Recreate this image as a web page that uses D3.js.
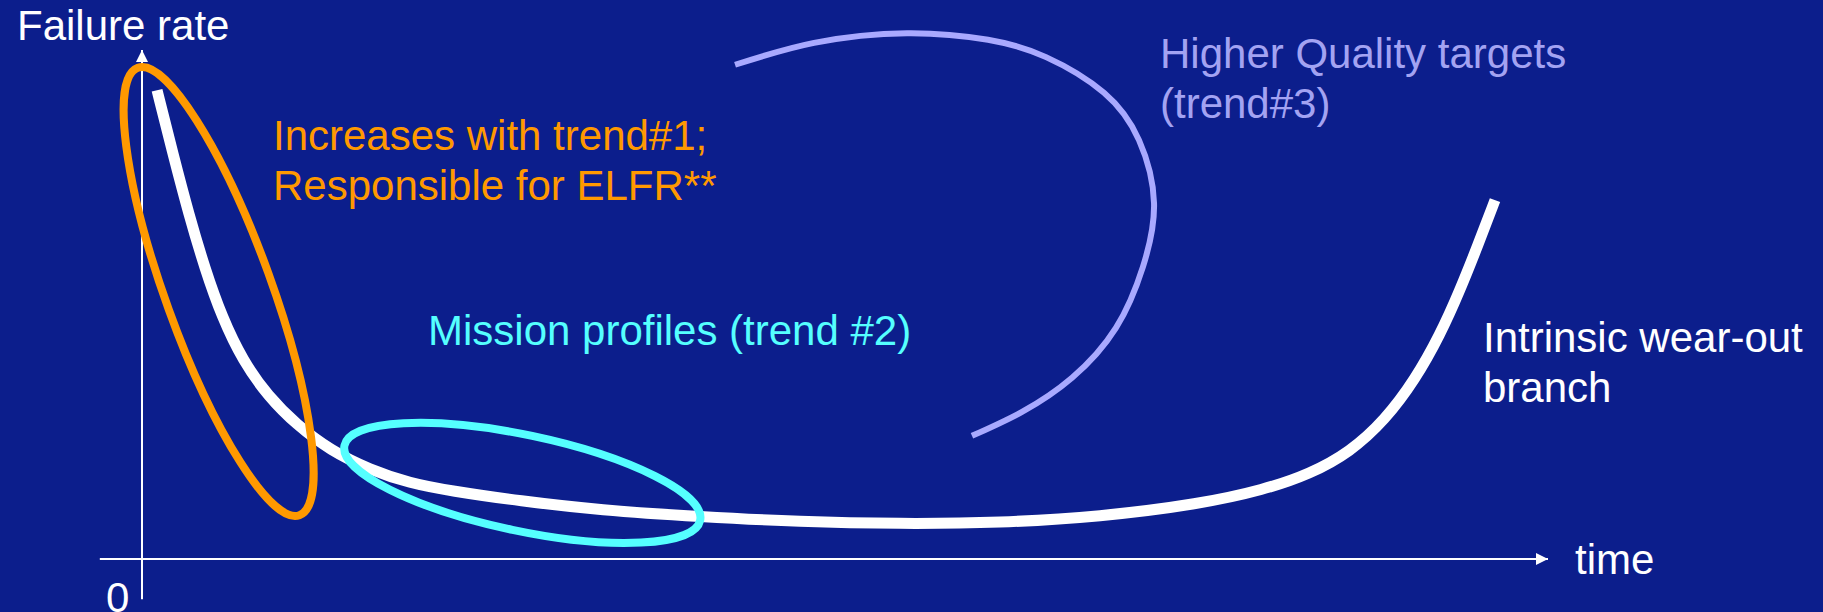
<!DOCTYPE html>
<html>
<head>
<meta charset="utf-8">
<script src="https://cdn.jsdelivr.net/npm/d3@7"></script>
<style>
  html, body { margin: 0; padding: 0; background: #0c1e8c; overflow: hidden; }
  svg { display: block; }
  text { font-family: "Liberation Sans", Arial, sans-serif; font-size: 42px; }
</style>
</head>
<body>
<svg class="chart"></svg>
<script>
// bathtub curve (time 0-100, failure rate 0-100)
var bathTime = [1.07, 2.20, 3.34, 4.48, 5.69, 7.18, 8.96, 11.02, 13.37,
  16.22, 19.06, 21.91, 26.88, 32.57, 39.69, 46.80, 53.91, 61.02, 68.14, 75.25, 79.80,
  83.07, 85.92, 88.41, 90.54, 92.32, 93.74, 95.02, 96.23];
var bathRate = [92.1, 79.6, 67.6, 57.0, 47.5, 38.9, 32.0, 26.3, 21.4,
  17.5, 14.9, 13.4, 11.4, 9.6, 8.3, 7.3, 6.9, 7.1, 8.3, 10.8, 13.6,
  16.7, 21.0, 27.3, 35.2, 44.0, 52.8, 61.7, 70.5];

// "higher quality targets" arc
var arcTime = [42.18, 47.80, 54.41, 60.17, 64.30, 68.42, 70.91, 71.98, 71.19, 69.27, 66.15, 62.59, 59.03];
var arcRate = [97.1, 101.4, 103.3, 102.0, 98.6, 91.6, 82.3, 69.9, 57.4, 45.4, 35.6, 28.9, 24.2];

// ellipse annotations: ends of the long axis [time, rate]
var earlyFailEnds = [[-0.3, 96.5], [11.2, 8.6]];
var missionEnds = [[14.4, 22.3], [39.7, 7.6]];

var earlyFailLabel = ['Increases with trend#1;', 'Responsible for ELFR**'];
var missionLabel = ['Mission profiles (trend #2)'];
var qualityLabel = ['Higher Quality targets', '(trend#3)'];
var wearOutLabel = ['Intrinsic wear-out', 'branch'];
var yLabel = 'Failure rate';
var xLabel = 'time';
var originLabel = '0';

var width = 1823;
var height = 612;

var x = d3.scaleLinear().domain([0, 100]).range([142, 1548]);
var y = d3.scaleLinear().domain([0, 100]).range([559, 50]);

var svg = d3.select('.chart').attr('width', width).attr('height', height);

svg.append('rect').attr('width', width).attr('height', height).style('fill', '#0c1e8c');

var defs = svg.append('defs');
defs.append('marker')
    .attr('id', 'arrow')
    .attr('viewBox', '0 0 12 12')
    .attr('refX', 12)
    .attr('refY', 6)
    .attr('markerWidth', 12)
    .attr('markerHeight', 12)
    .attr('markerUnits', 'userSpaceOnUse')
    .attr('orient', 'auto')
    .append('path')
    .attr('d', 'M0,0 L12,6 L0,12 Z')
    .style('fill', 'white');

// axes
svg.append('line')
    .attr('x1', x(-3)).attr('x2', x(100))
    .attr('y1', y(0)).attr('y2', y(0))
    .style('stroke', 'white').style('stroke-width', 2)
    .attr('marker-end', 'url(#arrow)');

svg.append('line')
    .attr('x1', x(0)).attr('x2', x(0))
    .attr('y1', y(-7.9)).attr('y2', y(100))
    .style('stroke', 'white').style('stroke-width', 2)
    .attr('marker-end', 'url(#arrow)');

svg.append('text').attr('x', 17).attr('y', 40).style('fill', 'white').text(yLabel);
svg.append('text').attr('x', x(100) + 27).attr('y', y(0) + 15).style('fill', 'white').text(xLabel);
svg.append('text').attr('x', x(0) - 36).attr('y', 612).style('fill', 'white').text(originLabel);

// ellipses drawn from the ends of their long axis
function drawEllipse(ends, halfWidth, color) {
  var p0 = [x(ends[0][0]), y(ends[0][1])];
  var p1 = [x(ends[1][0]), y(ends[1][1])];
  var cx = (p0[0] + p1[0]) / 2;
  var cy = (p0[1] + p1[1]) / 2;
  var dx = p1[0] - p0[0];
  var dy = p1[1] - p0[1];
  var angle = Math.atan2(dy, dx) * 180 / Math.PI;
  svg.append('ellipse')
      .attr('transform', 'translate(' + cx + ',' + cy + ') rotate(' + angle + ')')
      .attr('rx', Math.sqrt(dx * dx + dy * dy) / 2)
      .attr('ry', halfWidth)
      .style('fill', 'none')
      .style('stroke', color)
      .style('stroke-width', 8);
}

var bathLine = d3.line()
    .x(d => x(d[0]))
    .y(d => y(d[1]))
    .curve(d3.curveBasis);

var arcLine = d3.line()
    .x(d => x(d[0]))
    .y(d => y(d[1]))
    .curve(d3.curveNatural);

var bathData = bathTime.map((t, i) => [t, bathRate[i]]);
var arcData = arcTime.map((t, i) => [t, arcRate[i]]);

svg.append('path')
    .datum(arcData)
    .attr('d', arcLine)
    .style('fill', 'none')
    .style('stroke', '#a9a9ff')
    .style('stroke-width', 6);

svg.append('path')
    .datum(bathData)
    .attr('d', bathLine)
    .style('fill', 'none')
    .style('stroke', 'white')
    .style('stroke-width', 11)
    .style('stroke-linecap', 'butt');

drawEllipse(earlyFailEnds, 53, '#ff9900');
drawEllipse(missionEnds, 48, '#55ffff');

function drawLabel(lines, px, py, color) {
  svg.append('g').selectAll('text')
      .data(lines)
      .join('text')
      .attr('x', px)
      .attr('y', (d, i) => py + i * 50)
      .style('fill', color)
      .text(d => d);
}

drawLabel(earlyFailLabel, 273, 150, '#ff9900');
drawLabel(missionLabel, 428, 345, '#55ffff');
drawLabel(qualityLabel, 1160, 68, '#a3a3f2');
drawLabel(wearOutLabel, 1483, 352, 'white');
</script>
</body>
</html>
